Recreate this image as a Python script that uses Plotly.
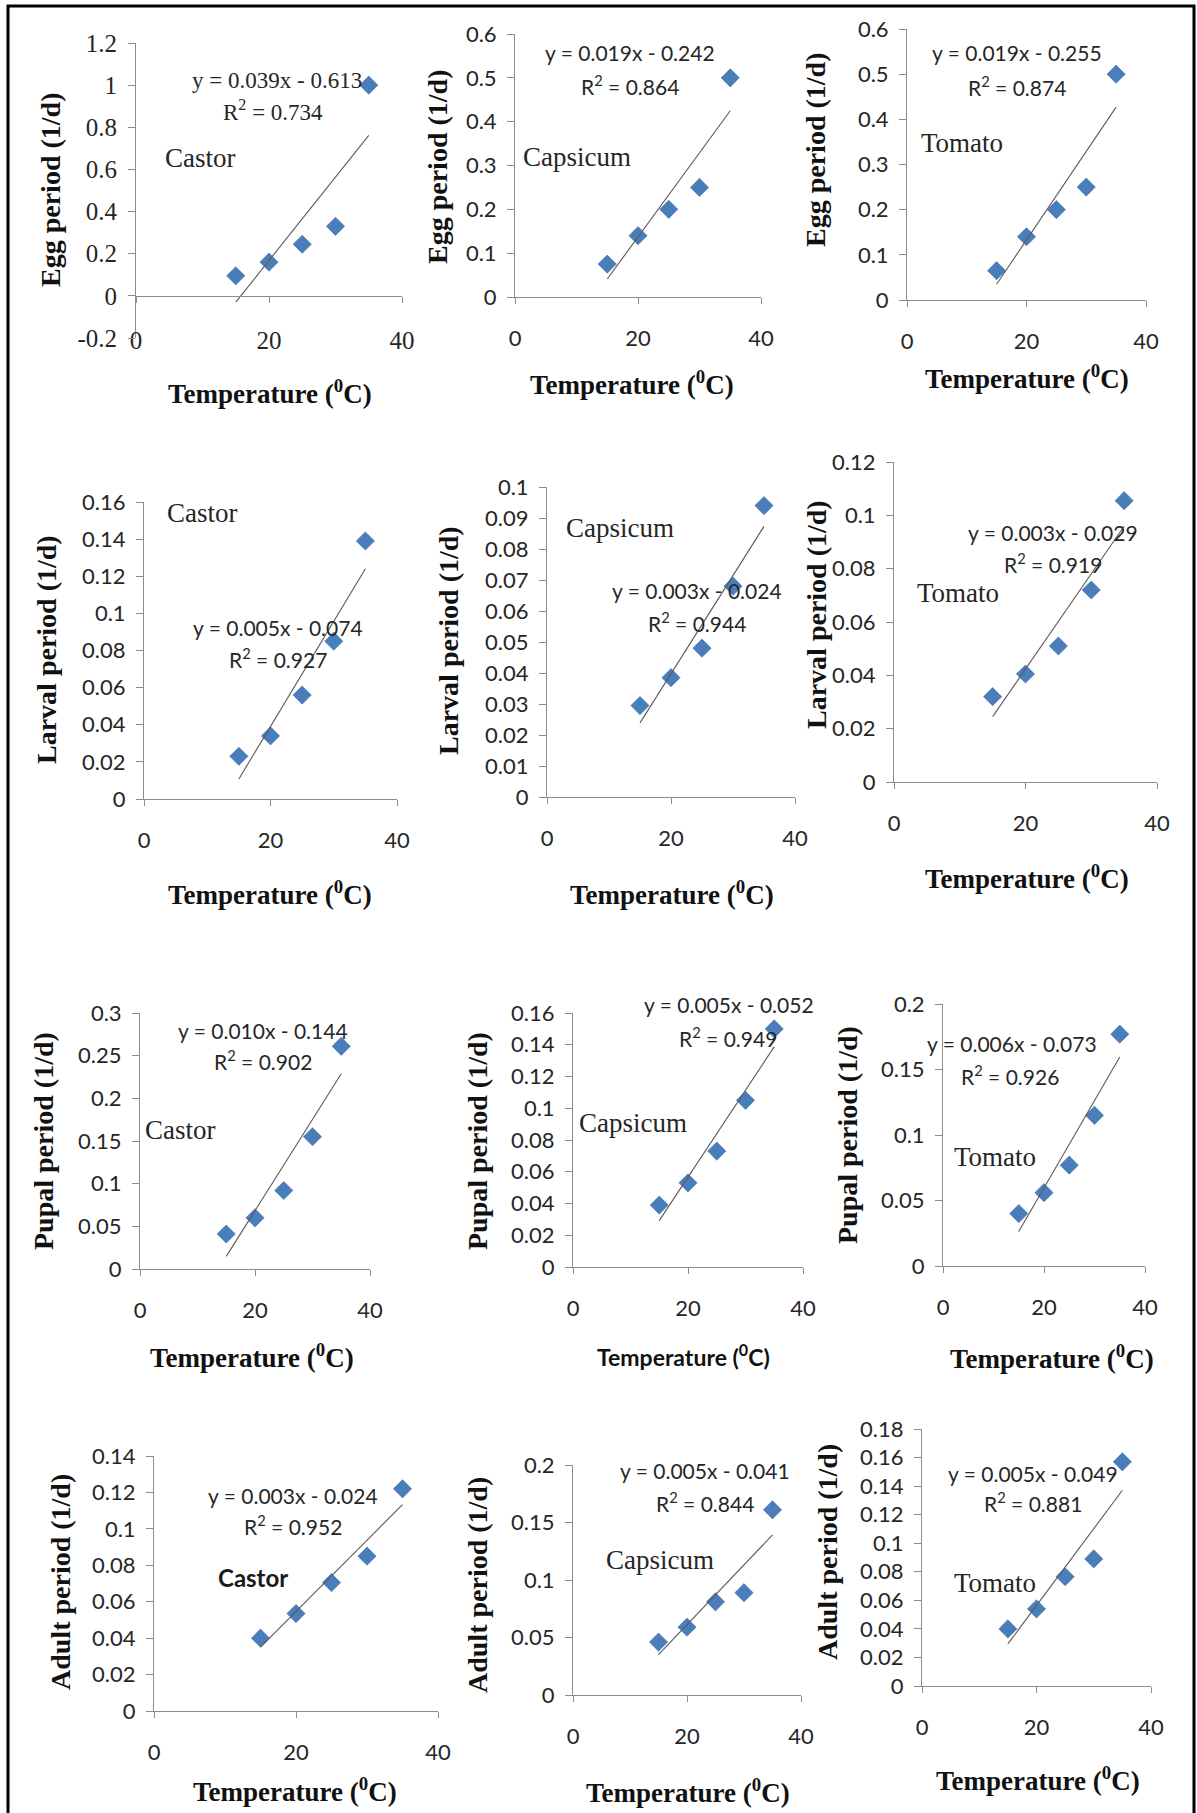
import numpy as np
import plotly.graph_objects as go

W, H = 1197, 1813

# ---------------- data ----------------
temps = [15, 20, 25, 30, 35]

egg_castor = [0.095, 0.16, 0.245, 0.33, 1.0]
egg_capsicum = [0.075, 0.14, 0.2, 0.25, 0.5]
egg_tomato = [0.065, 0.14, 0.2, 0.25, 0.5]
larval_castor = [0.023, 0.034, 0.056, 0.085, 0.139]
larval_capsicum = [0.0295, 0.0385, 0.048, 0.068, 0.094]
larval_tomato = [0.032, 0.0405, 0.051, 0.072, 0.1055]
pupal_castor = [0.041, 0.06, 0.092, 0.155, 0.261]
pupal_capsicum = [0.039, 0.053, 0.073, 0.105, 0.15]
pupal_tomato = [0.04, 0.056, 0.077, 0.115, 0.177]
adult_castor = [0.04, 0.0535, 0.0705, 0.085, 0.122]
adult_capsicum = [0.046, 0.059, 0.081, 0.089, 0.161]
adult_tomato = [0.04, 0.054, 0.0765, 0.089, 0.157]

series = [egg_castor, egg_capsicum, egg_tomato,
          larval_castor, larval_capsicum, larval_tomato,
          pupal_castor, pupal_capsicum, pupal_tomato,
          adult_castor, adult_capsicum, adult_tomato]

hosts = ["Castor", "Capsicum", "Tomato"] * 4
y_titles = ["Egg period (1/d)"] * 3 + ["Larval period (1/d)"] * 3 + \
           ["Pupal period (1/d)"] * 3 + ["Adult period (1/d)"] * 3
x_title = "Temperature (<sup>0</sup>C)"

equations = ["y = 0.039x - 0.613", "y = 0.019x - 0.242", "y = 0.019x - 0.255",
             "y = 0.005x - 0.074", "y = 0.003x - 0.024", "y = 0.003x - 0.029",
             "y = 0.010x - 0.144", "y = 0.005x - 0.052", "y = 0.006x - 0.073",
             "y = 0.003x - 0.024", "y = 0.005x - 0.041", "y = 0.005x - 0.049"]
r2_text = ["0.734", "0.864", "0.874", "0.927", "0.944", "0.919",
           "0.902", "0.949", "0.926", "0.952", "0.844", "0.881"]

y_ranges = [[-0.2, 1.2], [0, 0.6], [0, 0.6],
            [0, 0.16], [0, 0.1], [0, 0.12],
            [0, 0.3], [0, 0.16], [0, 0.2],
            [0, 0.14], [0, 0.2], [0, 0.18]]
y_dticks = [0.2, 0.1, 0.1, 0.02, 0.01, 0.02, 0.05, 0.02, 0.05, 0.02, 0.05, 0.02]
x_range = [0, 40]
x_dtick = 20
p1_tickvals = [-0.2, 0, 0.2, 0.4, 0.6, 0.8, 1, 1.2]
p1_ticktext = ["-0.2", "0", "0.2", "0.4", "0.6", "0.8", "1", "1.2"]

# ---------------- layout (pixel positions) ----------------
# dom: x0, x1, y0(top), y1(bottom)
panels = [
    dict(dom=(136, 402, 43, 338), eq=(277, 80), r2=(273, 110), host=(200, 158), xt=(270, 392), yt=(50, 190)),
    dict(dom=(515, 761, 34, 297), eq=(630, 53), r2=(630, 85), host=(577, 157), xt=(632, 383), yt=(437, 167)),
    dict(dom=(907, 1146, 29, 300), eq=(1017, 53), r2=(1017, 86), host=(962, 143), xt=(1027, 377), yt=(815, 150)),
    dict(dom=(144, 397, 502, 799), eq=(278, 627), r2=(278, 658), host=(202, 513), xt=(270, 893), yt=(47, 650)),
    dict(dom=(547, 795, 487, 797), eq=(697, 590), r2=(697, 622), host=(620, 528), xt=(672, 893), yt=(448, 641)),
    dict(dom=(894, 1157, 462, 782), eq=(1053, 532), r2=(1053, 563), host=(958, 593), xt=(1027, 877), yt=(817, 615)),
    dict(dom=(140, 370, 1013, 1269), eq=(263, 1030), r2=(263, 1060), host=(180, 1130), xt=(252, 1356), yt=(43, 1141)),
    dict(dom=(573, 803, 1013, 1267), eq=(729, 1004), r2=(728, 1037), host=(633, 1123), xt=(683, 1355), yt=(477, 1141)),
    dict(dom=(943, 1145, 1004, 1266), eq=(1012, 1043), r2=(1010, 1075), host=(995, 1157), xt=(1052, 1357), yt=(847, 1135)),
    dict(dom=(154, 438, 1456, 1711), eq=(293, 1495), r2=(293, 1525), host=(253, 1577), xt=(295, 1790), yt=(60, 1582)),
    dict(dom=(573, 801, 1465, 1695), eq=(705, 1470), r2=(705, 1502), host=(660, 1560), xt=(688, 1791), yt=(477, 1585)),
    dict(dom=(922, 1151, 1429, 1686), eq=(1033, 1473), r2=(1033, 1502), host=(995, 1583), xt=(1038, 1779), yt=(827, 1552)),
]

SERIF = "Liberation Serif, Times New Roman, serif"
SANS = "Lato, Carlito, Calibri, sans-serif"
AXIS_COL = "#8c8c8c"
TXT = "#262626"
MARKER = "#4a7ebb"


def px(x):
    return x / W


def py(y):
    return 1 - y / H


fig = go.Figure()
annotations = []

for i, (vals, spec) in enumerate(zip(series, panels)):
    k = "" if i == 0 else str(i + 1)
    xa, ya = "x" + k, "y" + k
    x0, x1, y0, y1 = spec["dom"]

    # data markers
    fig.add_trace(go.Scatter(
        x=temps, y=vals, mode="markers", xaxis=xa, yaxis=ya,
        marker=dict(symbol="diamond", size=14, color=MARKER,
                    line=dict(color="#3d6da6", width=0.6)),
        showlegend=False, hoverinfo="x+y"))

    # linear trendline fitted to the data
    slope, intercept = np.polyfit(temps, vals, 1)
    tx = [min(temps), max(temps)]
    fig.add_trace(go.Scatter(
        x=tx, y=[slope * t + intercept for t in tx], mode="lines",
        xaxis=xa, yaxis=ya, line=dict(color="#5a5a5a", width=1.1),
        showlegend=False, hoverinfo="skip"))

    tick_font = dict(family=SERIF if i == 0 else SANS, size=25 if i == 0 else 22, color=TXT)

    xaxis = dict(domain=[px(x0), px(x1)], range=x_range, dtick=x_dtick, tick0=0,
                 showgrid=False, zeroline=False, showline=True, linecolor=AXIS_COL,
                 linewidth=1, ticks="outside", ticklen=6, tickcolor=AXIS_COL,
                 tickfont=tick_font, ticklabelstandoff=16, fixedrange=True)
    if i == 0:
        # horizontal axis crosses at y = 0
        yr = y_ranges[0]
        zero_px = y1 - (0 - yr[0]) / (yr[1] - yr[0]) * (y1 - y0)
        xaxis.update(anchor="free", position=py(zero_px))
    else:
        xaxis.update(anchor=ya)

    yaxis = dict(domain=[py(y1), py(y0)], range=y_ranges[i], dtick=y_dticks[i], tick0=0,
                 anchor=xa, showgrid=False, zeroline=False, showline=True,
                 linecolor=AXIS_COL, linewidth=1, ticks="outside", ticklen=7,
                 tickcolor=AXIS_COL, tickfont=tick_font, ticklabelstandoff=6,
                 fixedrange=True)
    if i == 0:
        yaxis.update(tickmode="array", tickvals=p1_tickvals, ticktext=p1_ticktext)

    fig.update_layout({"xaxis" + k: xaxis, "yaxis" + k: yaxis})

    # equation + R^2
    eq_font = dict(family=SERIF if i == 0 else SANS, size=23 if i == 0 else 21, color=TXT)
    annotations.append(dict(x=px(spec["eq"][0]), y=py(spec["eq"][1]), xref="paper", yref="paper",
                            text=equations[i], showarrow=False, font=eq_font,
                            xanchor="center", yanchor="middle"))
    annotations.append(dict(x=px(spec["r2"][0]), y=py(spec["r2"][1]), xref="paper", yref="paper",
                            text="R<sup>2</sup> = " + r2_text[i], showarrow=False, font=eq_font,
                            xanchor="center", yanchor="middle"))
    # host label
    if i == 9:
        host_font = dict(family=SANS, size=24, color="#1a1a1a")
        host_txt = "<b>" + hosts[i] + "</b>"
    else:
        host_font = dict(family=SERIF, size=27, color=TXT)
        host_txt = hosts[i]
    annotations.append(dict(x=px(spec["host"][0]), y=py(spec["host"][1]), xref="paper", yref="paper",
                            text=host_txt, showarrow=False, font=host_font,
                            xanchor="center", yanchor="middle"))
    # axis titles
    if i == 7:
        xt_font = dict(family=SANS, size=23, color="#111111")
    else:
        xt_font = dict(family=SERIF, size=27, color="#111111")
    annotations.append(dict(x=px(spec["xt"][0]), y=py(spec["xt"][1]), xref="paper", yref="paper",
                            text="<b>" + x_title + "</b>", showarrow=False, font=xt_font,
                            xanchor="center", yanchor="middle"))
    annotations.append(dict(x=px(spec["yt"][0]), y=py(spec["yt"][1]), xref="paper", yref="paper",
                            text="<b>" + y_titles[i] + "</b>", showarrow=False, textangle=-90,
                            font=dict(family=SERIF, size=28, color="#111111"),
                            xanchor="center", yanchor="middle"))

fig.update_layout(
    width=W, height=H, autosize=False,
    margin=dict(l=0, r=0, t=0, b=0, pad=0, autoexpand=False),
    paper_bgcolor="white", plot_bgcolor="white",
    showlegend=False, annotations=annotations,
    shapes=[dict(type="rect", xref="paper", yref="paper",
                 x0=px(8), x1=px(1194), y0=py(1816), y1=py(6),
                 line=dict(color="black", width=3), fillcolor="rgba(0,0,0,0)", layer="above")],
)

post = ("var s=document.createElement('style');"
        "s.innerHTML='html,body{margin:0 !important;padding:0 !important;overflow:hidden;}';"
        "document.head.appendChild(s);")
fig.write_html("out.html", config={"displayModeBar": False, "responsive": False},
               post_script=post)
